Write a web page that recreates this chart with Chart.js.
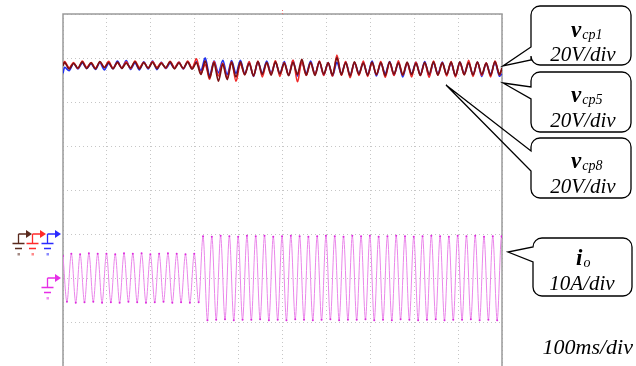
<!DOCTYPE html>
<html>
<head>
<meta charset="utf-8">
<script src="https://cdn.jsdelivr.net/npm/chart.js@4"></script>
<style>
html,body{margin:0;padding:0;background:#fff;}
#wrap{width:636px;height:366px;}
</style>
</head>
<body>
<div id="wrap"><canvas id="scope" width="636" height="366"></canvas></div>
<script>
// ==============================
// scope capture: capacitor voltages + output current
// ==============================

// time (ms) of the ripple peaks / valleys of the capacitor voltages
const tV = [
    0,4,14,24,34,44,54,64,74,84,
    94,104,114,124,134,144,154,164,174,184,
    194,204,214,224,234,244,254,264,274,284,
    294,304,314,324,334,344,354,364,374,384,
    394,404,414,424,434,444,454,464,474,484,
    494,504,514,524,534,544,554,564,574,584,
    594,604,614,624,634,644,654,664,674,684,
    694,704,714,724,734,744,754,764,774,784,
    794,804,814,824,834,844,854,864,874,884,
    894,904,914,924,934,944,954,964,974,984,
    994,1000
];

// capacitor voltages (V)
const vcp1 = [
    76.5,78.0,75.0,77.6,75.4,78.2,75.2,77.8,75.0,78.4,
    75.6,77.9,75.1,78.1,75.3,77.7,75.5,78.3,75.0,77.9,
    75.4,78.0,75.2,77.6,75.6,78.2,75.1,77.8,75.3,78.1,
    75.0,77.9,72.5,78.6,71.0,77.8,69.5,77.2,70.2,78.0,
    71.4,78.2,72.4,77.6,71.9,78.4,72.6,78.0,72.2,78.2,
    72.8,77.7,72.0,78.0,72.6,79.4,72.3,78.0,72.1,78.4,
    72.7,77.8,72.3,80.2,72.5,77.9,71.9,78.3,72.6,77.7,
    72.2,78.1,72.4,77.9,72.0,78.2,72.7,77.8,72.3,78.1,
    72.5,77.6,72.1,78.0,72.6,78.2,72.2,77.8,72.5,78.1,
    72.0,78.3,72.4,77.9,72.3,78.1,72.6,77.7,72.1,78.4,
    72.5,75.5
];
const vcp5 = [
    77.0,78.4,75.6,78.0,75.2,78.6,75.8,77.9,75.4,78.2,
    75.7,78.5,75.3,77.8,75.6,78.3,75.2,78.6,75.7,78.1,
    75.4,78.4,75.8,78.0,75.3,78.5,75.6,78.2,75.1,78.6,
    75.5,79.6,73.0,77.0,70.4,78.4,71.8,77.6,70.8,78.2,
    69.4,77.4,72.4,78.4,71.8,78.6,71.4,77.8,72.6,78.8,
    71.6,78.0,72.2,79.0,69.2,78.2,72.0,77.8,72.6,78.6,
    72.0,77.9,71.8,81.4,72.2,78.4,71.0,78.0,72.0,78.6,
    71.6,77.9,72.4,78.4,71.2,78.0,72.0,78.8,72.2,77.8,
    71.4,78.2,72.0,77.9,71.2,78.6,72.2,78.0,71.8,78.4,
    71.4,77.9,72.4,79.0,71.6,78.2,72.0,77.8,71.4,78.6,
    72.4,75.0
];
const vcp8 = [
    73.0,75.8,74.2,77.6,75.0,77.8,75.2,77.4,74.8,77.9,
    74.6,77.5,75.1,78.6,75.3,78.8,74.8,77.8,74.6,78.3,
    75.0,78.6,74.7,78.1,75.2,77.6,75.4,78.0,75.0,78.3,
    75.2,78.4,74.2,80.0,72.0,78.6,73.2,79.0,72.4,78.8,
    73.0,79.0,72.8,78.0,71.6,78.2,73.0,78.6,73.2,78.0,
    72.8,78.4,72.2,78.8,71.8,78.2,73.0,78.6,72.6,78.2,
    72.2,77.9,71.8,78.0,72.8,78.2,72.0,77.8,73.0,78.0,
    72.4,78.6,71.8,77.9,72.8,78.4,72.2,78.0,71.4,77.6,
    72.8,78.0,72.4,78.4,71.8,77.8,72.8,78.2,72.4,77.8,
    71.8,78.0,73.0,77.8,72.2,78.2,71.6,77.6,72.6,77.9,
    71.8,72.8
];

// time (ms) of the peaks / valleys of the output current
const tI = [
    0,9,19,29,39,49,59,69,79,89,
    99,109,119,129,139,149,159,169,179,189,
    199,209,219,229,239,249,259,269,279,289,
    299,309,319,329,339,349,359,369,379,389,
    399,409,419,429,439,449,459,469,479,489,
    499,509,519,529,539,549,559,569,579,589,
    599,609,619,629,639,649,659,669,679,689,
    699,709,719,729,739,749,759,769,779,789,
    799,809,819,829,839,849,859,869,879,889,
    899,909,919,929,939,949,959,969,979,989,
    999,1000
];

// output current (A)
const io = [
    5.0,-5.4,5.5,-5.6,5.4,-5.5,5.6,-5.4,5.5,-5.6,
    5.5,-5.5,5.4,-5.6,5.6,-5.4,5.5,-5.5,5.6,-5.6,
    5.4,-5.5,5.5,-5.4,5.6,-5.6,5.5,-5.5,5.4,-5.6,
    5.5,-5.5,9.5,-9.6,9.4,-9.5,9.6,-9.4,9.5,-9.6,
    9.4,-9.5,9.6,-9.5,9.5,-9.4,9.6,-9.6,9.4,-9.5,
    9.5,-9.6,9.6,-9.4,9.5,-9.5,9.4,-9.6,9.5,-9.5,
    9.6,-9.4,9.5,-9.6,9.4,-9.5,9.6,-9.5,9.5,-9.4,
    9.6,-9.6,9.4,-9.5,9.5,-9.6,9.6,-9.4,9.5,-9.5,
    9.4,-9.6,9.5,-9.5,9.6,-9.4,9.5,-9.6,9.4,-9.5,
    9.6,-9.5,9.5,-9.4,9.6,-9.6,9.4,-9.5,9.5,-9.6,
    9.5,9.3
];

// screen: 10 x 8 divisions
const timeDiv = 100;   // ms/div
const voltDiv = 20;    // V/div
const ampDiv = 10;     // A/div

function pts(t, v){
    return t.map((x,i) => ({x:x, y:v[i]}));
}

// ground markers
function groundMark(ctx, tx, y, color){
    const vx = tx - 13.5;
    ctx.strokeStyle = color;
    ctx.fillStyle = color;
    ctx.lineWidth = 1.3;
    ctx.beginPath();
    ctx.moveTo(vx, y); ctx.lineTo(tx - 5, y);
    ctx.moveTo(vx, y); ctx.lineTo(vx, y + 9.5);
    ctx.moveTo(vx - 6, y + 9.5); ctx.lineTo(vx + 6, y + 9.5);
    ctx.moveTo(vx - 3.5, y + 14.5); ctx.lineTo(vx + 3.5, y + 14.5);
    ctx.stroke();
    ctx.beginPath();
    ctx.moveTo(tx, y); ctx.lineTo(tx - 6, y - 4); ctx.lineTo(tx - 6, y + 4);
    ctx.closePath(); ctx.fill();
    ctx.globalAlpha = 0.55;
    ctx.fillRect(vx - 1, y + 19, 2.5, 2.5);
    ctx.globalAlpha = 1;
}

// rounded label box with a pointer on its left side
function callout(ctx, x, y, w, h, r, a1, a2, tip){
    ctx.beginPath();
    ctx.moveTo(x + r, y);
    ctx.arcTo(x + w, y, x + w, y + h, r);
    ctx.arcTo(x + w, y + h, x, y + h, r);
    ctx.arcTo(x, y + h, x, y, r);
    ctx.arcTo(x, y, x + w, y, r);
    ctx.closePath();
    ctx.fillStyle = "#fff";
    ctx.fill();

    ctx.beginPath();
    ctx.moveTo(x + r, y);
    ctx.lineTo(x + w - r, y); ctx.arcTo(x + w, y, x + w, y + r, r);
    ctx.lineTo(x + w, y + h - r); ctx.arcTo(x + w, y + h, x + w - r, y + h, r);
    ctx.lineTo(x + r, y + h); ctx.arcTo(x, y + h, x, y + h - r, r);
    ctx.lineTo(x, a2);
    ctx.lineTo(tip[0], tip[1]);
    ctx.lineTo(x, a1);
    ctx.lineTo(x, y + r); ctx.arcTo(x, y, x + r, y, r);
    ctx.strokeStyle = "#000";
    ctx.lineWidth = 1.3;
    ctx.stroke();
}

function label(ctx, main, sub, x, y){
    ctx.fillStyle = "#000";
    ctx.textAlign = "left";
    ctx.font = 'italic bold 23px "Liberation Serif"';
    ctx.fillText(main, x, y);
    const w = ctx.measureText(main).width;
    ctx.font = 'italic 14px "Liberation Serif"';
    ctx.fillText(sub, x + w + 1, y + 2);
}

function line2(ctx, txt, cx, y){
    ctx.fillStyle = "#000";
    ctx.textAlign = "center";
    ctx.font = 'italic 21px "Liberation Serif"';
    ctx.fillText(txt, cx, y);
}

const scopeDecor = {
    id: "scopeDecor",
    beforeDatasetsDraw(chart){
        const {ctx, chartArea:a} = chart;
        ctx.save();
        ctx.strokeStyle = "#9a9a9a";
        ctx.lineWidth = 1.5;
        ctx.beginPath();
        ctx.moveTo(a.left, chart.height);
        ctx.lineTo(a.left, a.top);
        ctx.lineTo(a.right, a.top);
        ctx.lineTo(a.right, chart.height);
        ctx.stroke();
        // trigger position mark
        const tx = chart.scales.x.getPixelForValue(500);
        ctx.strokeStyle = "#f07070";
        ctx.lineWidth = 1;
        ctx.setLineDash([1,2]);
        ctx.beginPath(); ctx.moveTo(tx, a.top - 4); ctx.lineTo(tx, a.top); ctx.stroke();
        ctx.restore();
    },
    afterDraw(chart){
        const {ctx, chartArea:a} = chart;
        const yv = chart.scales.y.getPixelForValue(0);
        const yi = chart.scales.y2.getPixelForValue(0);
        ctx.save();
        groundMark(ctx, a.left - 31, yv, "#5a2a1e");
        groundMark(ctx, a.left - 17, yv, "#ff2a2a");
        groundMark(ctx, a.left - 2, yv, "#2a2aff");
        groundMark(ctx, a.left - 2, yi, "#e62ee6");

        callout(ctx, 531, 6, 100, 59, 9, 47, 60, [503, 66]);
        callout(ctx, 531, 72, 100, 60, 9, 87, 99, [503, 83]);
        callout(ctx, 531, 138, 100, 60, 9, 151, 171, [446, 85]);
        callout(ctx, 533, 238, 99, 58, 9, 247, 262, [508, 252]);

        label(ctx, "v", "cp1", 571, 37);
        line2(ctx, "20V/div", 583, 61);
        label(ctx, "v", "cp5", 571, 102);
        line2(ctx, "20V/div", 583, 127);
        label(ctx, "v", "cp8", 571, 168);
        line2(ctx, "20V/div", 583, 193);
        label(ctx, "i", "o", 576, 265);
        line2(ctx, "10A/div", 582, 290);

        ctx.textAlign = "right";
        ctx.font = 'italic 22px "Liberation Serif"';
        ctx.fillText(timeDiv + "ms/div", 633, 354);
        ctx.restore();
    }
};

const gridStyle = {color:"#c6c6c6", lineWidth:1, drawTicks:false};

const ctx = document.getElementById("scope").getContext("2d");

new Chart(ctx, {
    type: "line",
    data: {
        datasets: [
            {
                label: "vcp1",
                data: pts(tV, vcp1),
                yAxisID: "y",
                borderColor: "#7c1014",
                borderWidth: 1.7,
                pointRadius: 0,
                tension: 0.3
            },
            {
                label: "vcp5",
                data: pts(tV, vcp5),
                yAxisID: "y",
                borderColor: "#f02828",
                borderWidth: 1.5,
                pointRadius: 0,
                tension: 0.3
            },
            {
                label: "vcp8",
                data: pts(tV, vcp8),
                yAxisID: "y",
                borderColor: "#2030f0",
                borderWidth: 1.6,
                pointRadius: 0,
                tension: 0.3
            },
            {
                label: "io",
                data: pts(tI, io),
                yAxisID: "y2",
                borderColor: "#ea86ea",
                borderWidth: 1,
                cubicInterpolationMode: "monotone",
                pointRadius: 1,
                pointBorderWidth: 0,
                pointBackgroundColor: "#dc2cdc"
            }
        ]
    },
    options: {
        responsive: false,
        animation: false,
        layout: {
            autoPadding: false,
            padding: {left: 63, top: 14, right: 134, bottom: 0}
        },
        plugins: {
            legend: {display: false},
            tooltip: {enabled: false}
        },
        scales: {
            x: {
                type: "linear",
                min: 0,
                max: 10 * timeDiv,
                ticks: {display: false, stepSize: timeDiv},
                grid: gridStyle,
                border: {display: false, dash: [1, 3]}
            },
            y: {
                min: -3 * voltDiv,
                max: 5 * voltDiv,
                ticks: {display: false, stepSize: voltDiv},
                grid: gridStyle,
                border: {display: false, dash: [1, 3]}
            },
            y2: {
                display: false,
                min: -2 * ampDiv,
                max: 6 * ampDiv
            }
        }
    },
    plugins: [scopeDecor]
});
</script>
</body>
</html>
